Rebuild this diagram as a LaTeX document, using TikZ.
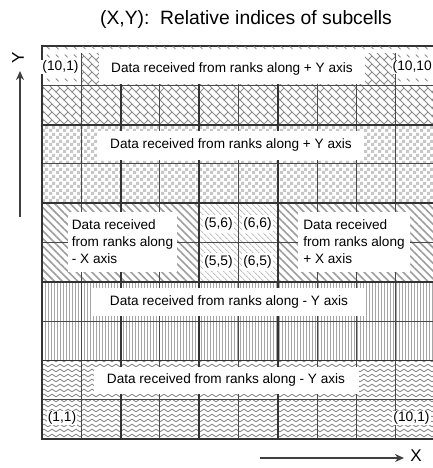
\documentclass[tikz,border=0pt]{standalone}
\usepackage{fontspec}
\setmainfont{Liberation Sans}
\usetikzlibrary{patterns,patterns.meta,arrows.meta}

\pgfdeclarepatternformonly{diagbrick}{\pgfqpoint{-1pt}{-1pt}}{\pgfqpoint{9pt}{9pt}}{\pgfqpoint{8pt}{8pt}}{%
  \pgfsetlinewidth{1pt}%
  \pgfpathmoveto{\pgfqpoint{-1pt}{9pt}}\pgfpathlineto{\pgfqpoint{9pt}{-1pt}}%
  \pgfpathmoveto{\pgfqpoint{0pt}{0pt}}\pgfpathlineto{\pgfqpoint{4pt}{4pt}}%
  \pgfusepath{stroke}}
\pgfdeclarepatternformonly{sparsedash}{\pgfqpoint{0pt}{0pt}}{\pgfqpoint{9pt}{8pt}}{\pgfqpoint{9pt}{8pt}}{%
  \pgfsetlinewidth{0.9pt}%
  \pgfpathmoveto{\pgfqpoint{2pt}{6pt}}\pgfpathlineto{\pgfqpoint{5pt}{3pt}}%
  \pgfusepath{stroke}}
\pgfdeclarepatternformonly{checker}{\pgfqpoint{0pt}{0pt}}{\pgfqpoint{7pt}{7pt}}{\pgfqpoint{7pt}{7pt}}{%
  \pgfpathrectangle{\pgfqpoint{0pt}{0pt}}{\pgfqpoint{3.5pt}{3.5pt}}%
  \pgfpathrectangle{\pgfqpoint{3.5pt}{3.5pt}}{\pgfqpoint{3.5pt}{3.5pt}}%
  \pgfusepath{fill}}
\pgfdeclarepatternformonly{wave}{\pgfqpoint{0pt}{-1pt}}{\pgfqpoint{8pt}{6pt}}{\pgfqpoint{8pt}{5pt}}{%
  \pgfsetlinewidth{0.9pt}%
  \pgfpathmoveto{\pgfqpoint{0pt}{1.2pt}}%
  \pgfpathcurveto{\pgfqpoint{1.5pt}{1.2pt}}{\pgfqpoint{2.5pt}{3.8pt}}{\pgfqpoint{4pt}{3.8pt}}%
  \pgfpathcurveto{\pgfqpoint{5.5pt}{3.8pt}}{\pgfqpoint{6.5pt}{1.2pt}}{\pgfqpoint{8pt}{1.2pt}}%
  \pgfusepath{stroke}}

\tikzset{
  labelbox/.style={fill=white, inner sep=0pt, font=\fontsize{13.6}{17}\selectfont},
  celllabel/.style={fill=white, inner sep=1pt, minimum width=31pt, minimum height=18pt, font=\fontsize{13.8}{17}\selectfont},
  cornerlabel/.style={fill=white, inner sep=1pt, font=\fontsize{13.8}{17}\selectfont},
  thinline/.style={line width=0.9pt, draw=black!72},
  thickline/.style={line width=1.8pt, draw=black!80},
  axisarrow/.style={line width=1.8pt, draw=black!75, -{Stealth[length=9pt,width=8pt]}},
  axislabel/.style={font=\fontsize{17}{20}\selectfont, inner sep=0pt}
}

\begin{document}
\begin{tikzpicture}[x=1pt,y=-1pt]
\useasboundingbox (0,0) rectangle (433,468);
\clip (0,0) rectangle (433,468);
\fill[white] (0,0) rectangle (433,468);

\begin{scope}[shift={(42,46)}, x=39.3pt, y=-39.3pt]
  % rows 10 and 9
  \fill[pattern=diagbrick, pattern color=black!45] (1,0) rectangle (9,1);
  \fill[pattern=diagbrick, pattern color=black!45] (0,1) rectangle (10,2);
  \fill[pattern=sparsedash, pattern color=black!45] (0,0) rectangle (1,1);
  \fill[pattern=sparsedash, pattern color=black!45] (9,0) rectangle (10,1);
  % rows 8 and 7
  \fill[pattern=checker, pattern color=black!22] (0,2) rectangle (10,4);
  % rows 6 and 5
  \fill[pattern={Lines[angle=-45,distance=5.5pt,line width=1.6pt]}, pattern color=black!38] (0,4) rectangle (4,6);
  \fill[pattern={Lines[angle=-45,distance=5.5pt,line width=1.6pt]}, pattern color=black!38] (6,4) rectangle (10,6);
  \fill[pattern={Lines[angle=-45,distance=4pt,line width=0.9pt]}, pattern color=black!25] (4,4) rectangle (6,6);
  % rows 4 and 3
  \fill[pattern={Lines[angle=90,distance=3pt,line width=0.9pt]}, pattern color=black!35] (0,6) rectangle (10,8);
  % rows 2 and 1
  \fill[pattern=wave, pattern color=black!45] (0,8) rectangle (10,10);

  % grid
  \foreach \k in {1,3,5,7,8,9} \draw[thinline] (\k,0) -- (\k,10);
  \foreach \k in {1,3,5,7,9} \draw[thinline] (0,\k) -- (10,\k);
  \foreach \k in {2,4,6} \draw[thickline] (\k,0) -- (\k,10);
  \foreach \k in {2,4,6,8} \draw[thickline] (0,\k) -- (10,\k);
  \draw[line width=2pt, draw=black!80] (0,0) rectangle (10,10);
\end{scope}

% sparse strip above the top label
\fill[white] (81.3,47) rectangle (395.7,53);
\fill[pattern=sparsedash, pattern color=black!45] (81.3,47) rectangle (395.7,53);

% label boxes
\node[labelbox, minimum width=266pt, minimum height=31pt] (top) at (232,69) {Data received from ranks along + Y axis};
\node[labelbox, minimum width=266pt, minimum height=29pt] (upper) at (231,145) {Data received from ranks along + Y axis};
\node[labelbox, minimum width=109pt, minimum height=60pt, align=left] (left) at (122.5,242) {Data received\\from ranks along\\- X axis};
\node[labelbox, minimum width=112pt, minimum height=60pt, align=left] (right) at (354,242) {Data received\\from ranks along\\+ X axis};
\node[labelbox, minimum width=272pt, minimum height=28pt] (lower) at (229,302) {Data received from ranks along - Y axis};
\node[labelbox, minimum width=265pt, minimum height=27pt] (bottom) at (226,380) {Data received from ranks along - Y axis};

% centre cell labels
\node[celllabel] (c56) at (218.5,224) {(5,6)};
\node[celllabel] (c66) at (257.5,224) {(6,6)};
\node[celllabel] (c55) at (218.5,262) {(5,5)};
\node[celllabel] (c65) at (257.5,262) {(6,5)};

% corner labels
\node[cornerlabel] (tl) at (60.5,67) {(10,1)};
\node[cornerlabel, anchor=east] (tr) at (433,67) {(10,10};
\node[cornerlabel] (bl) at (62,418) {(1,1)};
\node[cornerlabel] (br) at (411.5,418) {(10,1)};

% title
\node[font=\fontsize{19.3}{22}\selectfont, inner sep=0pt] (title) at (246,20) {(X,Y):\ \ Relative indices of subcells};

% axes
\coordinate (ystart) at (20,217);
\coordinate (yend) at (20,71);
\draw[axisarrow] (ystart) -- (yend);
\node[axislabel, rotate=90] (ylab) at (18,58) {Y};
\coordinate (xstart) at (260,458);
\coordinate (xend) at (404,458);
\draw[axisarrow] (xstart) -- (xend);
\node[axislabel] (xlab) at (416,456) {X};
\end{tikzpicture}
\end{document}
